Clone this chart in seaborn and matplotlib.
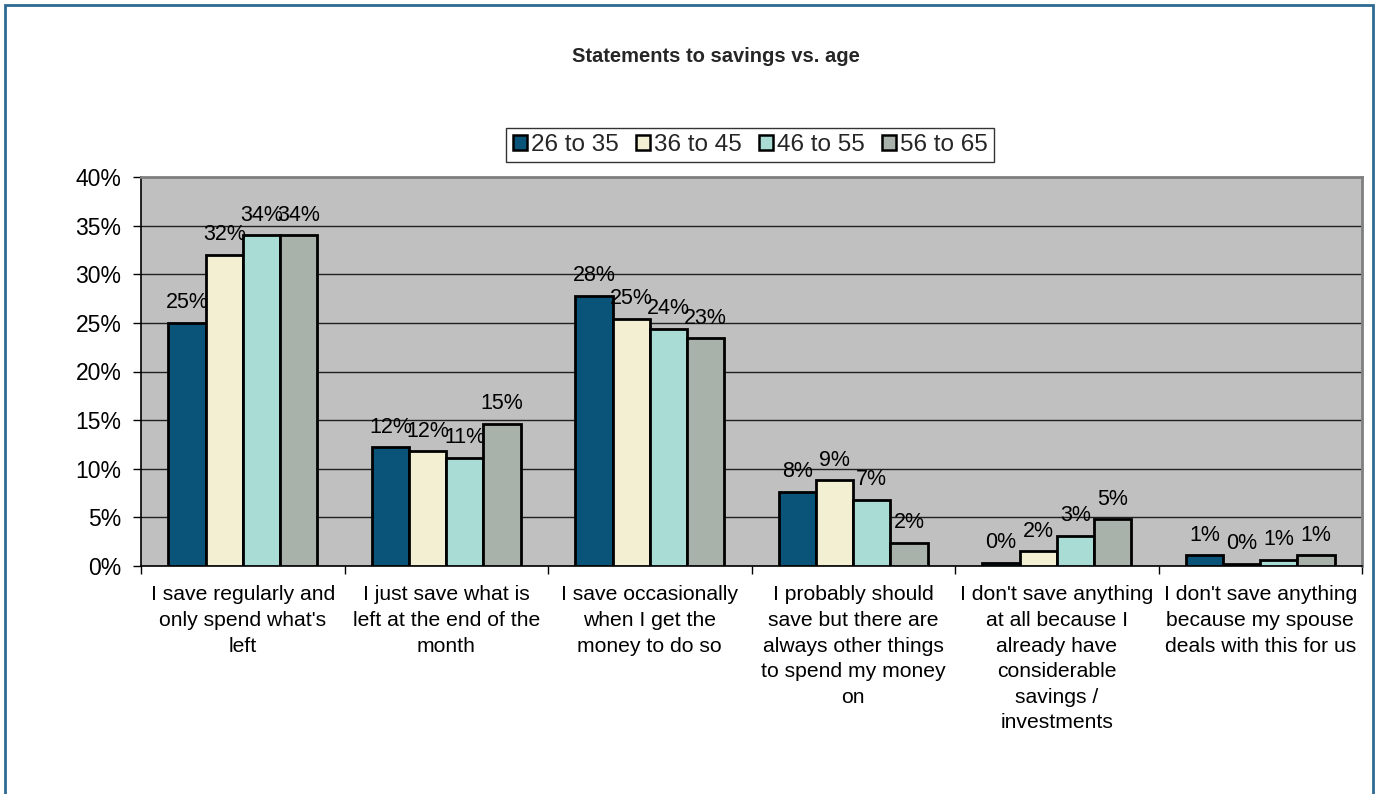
import matplotlib
matplotlib.use("Agg")
import matplotlib.pyplot as plt
from matplotlib.patches import Patch, Rectangle
from matplotlib.ticker import FixedLocator, PercentFormatter
import numpy as np
import pandas as pd
import seaborn as sns

statements = [
    "I save regularly and\nonly spend what's\nleft",
    "I just save what is\nleft at the end of the\nmonth",
    "I save occasionally\nwhen I get the\nmoney to do so",
    "I probably should\nsave but there are\nalways other things\nto spend my money\non",
    "I don't save anything\nat all because I\nalready have\nconsiderable\nsavings /\ninvestments",
    "I don't save anything\nbecause my spouse\ndeals with this for us",
]
age_groups = ["26 to 35", "36 to 45", "46 to 55", "56 to 65"]

age_26_35 = [25.0, 12.2, 27.8, 7.6, 0.3, 1.1]
age_36_45 = [32.0, 11.8, 25.4, 8.8, 1.5, 0.2]
age_46_55 = [34.0, 11.1, 24.4, 6.8, 3.1, 0.6]
age_56_65 = [34.0, 14.6, 23.4, 2.4, 4.8, 1.1]

colors = ["#0B5479", "#F2EFD2", "#A8DCD5", "#A8B2AA"]

series = [age_26_35, age_36_45, age_46_55, age_56_65]
df = pd.DataFrame(
    [
        {"statement": s, "age": a, "share": v}
        for a, vals in zip(age_groups, series)
        for s, v in zip(statements, vals)
    ]
)

sns.set_theme(style="white")
plt.rcParams["font.family"] = ["Liberation Sans", "DejaVu Sans"]

fig = plt.figure(figsize=(13.79, 7.94), dpi=100)
W, H = 1379, 794
ax = fig.add_axes([141 / W, 1 - 566 / H, (1362 - 141) / W, (566 - 177) / H])
ax.set_facecolor("#C0C0C0")

sns.barplot(
    data=df, x="statement", y="share", hue="age", order=statements,
    hue_order=age_groups, palette=colors, edgecolor="black", linewidth=2,
    width=0.73, saturation=1, errorbar=None, ax=ax, legend=False, zorder=3,
)

# value labels above each bar
for container in ax.containers:
    labels = [f"{h:.0f}%" for h in container.datavalues]
    ax.bar_label(container, labels=labels, padding=7, fontsize=15.5, color="black")

ax.set_ylim(0, 40)
ax.set_xlim(-0.5, len(statements) - 0.5)
ax.yaxis.set_major_locator(FixedLocator(np.arange(0, 41, 5)))
ax.yaxis.set_major_formatter(PercentFormatter(decimals=0))
ax.grid(axis="y", color="#202020", linewidth=1, zorder=0)
ax.set_axisbelow(True)

ax.set_xlabel("")
ax.set_ylabel("")
ax.tick_params(axis="y", labelsize=16.5, length=6, width=1, color="black",
               left=True, pad=8, labelcolor="black")
ax.tick_params(axis="x", which="major", length=0, labelsize=15.2, pad=14,
               labelcolor="black")
for lbl in ax.get_xticklabels():
    lbl.set_linespacing(1.44)
ax.set_xticks(np.arange(-0.5, len(statements), 1.0), minor=True)
ax.tick_params(axis="x", which="minor", length=6, width=1, color="black",
               bottom=True)

for side in ["top", "right"]:
    ax.spines[side].set_color("#808080")
    ax.spines[side].set_linewidth(2)
for side in ["left", "bottom"]:
    ax.spines[side].set_color("black")
    ax.spines[side].set_linewidth(1.2)

fig.text(716 / W, 1 - 57 / H, "Statements to savings vs. age",
         ha="center", va="center", fontsize=14.5, fontweight="bold")

handles = [Patch(facecolor=c, edgecolor="black", linewidth=1.8) for c in colors]
leg = fig.legend(
    handles, age_groups, loc="center", bbox_to_anchor=(750 / W, 1 - 145 / H),
    ncol=4, fontsize=17.5, frameon=True, fancybox=False, handlelength=0.6,
    handleheight=0.6, handletextpad=0.15, columnspacing=0.7, borderpad=0.25,
    borderaxespad=0,
)
leg.get_frame().set_edgecolor("black")
leg.get_frame().set_linewidth(1)

# outer frame of the chart
fig.patches.append(Rectangle((5 / W, -0.02), (1373 - 5) / W, 1 - 5 / H + 0.02,
                             transform=fig.transFigure, fill=False,
                             edgecolor="#2E6A93", linewidth=2))

fig.savefig("out.png", dpi=100, facecolor="white")
